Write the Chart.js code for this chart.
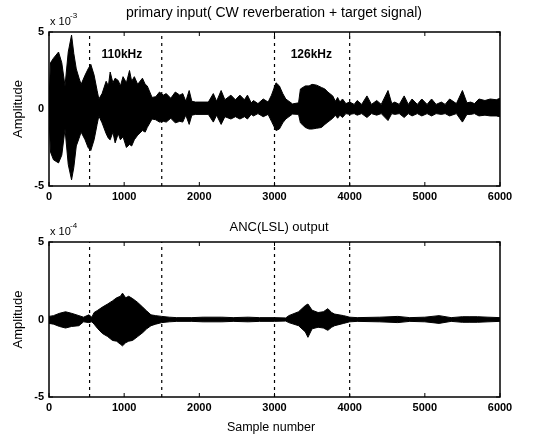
<!DOCTYPE html>
<html>
<head>
<meta charset="utf-8">
<script src="https://cdn.jsdelivr.net/npm/chart.js@4"></script>
<style>
  body { margin: 0; background: #fff; }
  #wrap { position: relative; width: 534px; height: 439px; }
  canvas { position: absolute; left: 0; }
</style>
</head>
<body>
<div id="wrap">
  <canvas id="topChart" width="534" height="215" style="top:0"></canvas>
  <canvas id="bottomChart" width="534" height="224" style="top:215px"></canvas>
</div>
<script>
// envelope of the primary input (x 10^-3)
const topX = [0, 20, 60, 127, 170, 213, 256, 300, 330, 363, 400, 427, 480, 520, 556, 600, 640, 663,
  706, 760, 790, 814, 850, 880, 921, 950, 985, 1030, 1071, 1100, 1135, 1180, 1243, 1280, 1307, 1371,
  1420, 1470, 1520, 1560, 1620, 1680, 1740, 1779, 1820, 1865, 1900, 1950, 2120, 2186, 2230, 2290,
  2340, 2420, 2480, 2540, 2600, 2640, 2690, 2720, 2780, 2850, 2915, 2960, 3020, 3065, 3110, 3150,
  3240, 3320, 3345, 3410, 3460, 3500, 3560, 3625, 3670, 3710, 3775, 3810, 3840, 3870, 3905, 3950,
  4000, 4060, 4100, 4160, 4230, 4290, 4360, 4420, 4510, 4560, 4600, 4660, 4725, 4780, 4830, 4900,
  4960, 5030, 5090, 5150, 5220, 5270, 5330, 5420, 5500, 5560, 5610, 5660, 5720, 5800, 5870, 5950, 6000];
const topUpper = [0.5, 3.0, 3.3, 3.7, 3.0, 1.5, 3.7, 4.8, 3.6, 2.6, 2.0, 1.6, 2.2, 2.6, 2.9, 2.2, 1.2, 0.65,
  1.0, 1.8, 1.5, 2.4, 1.7, 2.0, 1.85, 1.5, 2.1, 1.7, 2.5, 1.8, 2.1, 1.6, 2.0, 1.6, 1.5, 0.75,
  0.8, 1.1, 0.9, 1.0, 0.7, 1.1, 0.9, 1.0, 0.5, 1.2, 0.5, 0.45, 0.45, 1.0, 0.5, 1.2,
  0.6, 0.9, 0.6, 0.9, 0.6, 0.9, 0.4, 0.55, 0.35, 0.65, 0.45, 0.9, 1.7, 1.5, 1.0, 0.65,
  0.33, 0.4, 1.3, 1.5, 1.5, 1.6, 1.55, 1.4, 1.3, 1.1, 0.85, 0.5, 0.75, 0.45, 0.65, 0.35,
  0.45, 0.3, 0.55, 0.3, 0.85, 0.3, 0.55, 0.3, 1.2, 0.35, 0.45, 0.3, 0.85, 0.3, 0.65, 0.3,
  0.65, 0.3, 0.65, 0.3, 0.45, 0.3, 0.65, 0.35, 1.2, 0.4, 0.45, 0.35, 0.65, 0.55, 0.65, 0.6, 0.7];
const topLower = [-0.5, -2.8, -3.3, -3.5, -3.0, -1.3, -3.6, -4.6, -3.8, -2.4, -1.9, -1.5, -2.0, -2.5, -2.7, -2.0, -1.0, -0.45,
  -0.9, -1.6, -1.9, -2.0, -1.5, -2.2, -1.6, -2.0, -1.8, -2.5, -2.3, -2.4, -2.0, -1.7, -1.4, -1.5, -1.2, -0.65,
  -0.7, -0.85, -0.8, -0.85, -0.6, -0.9, -0.8, -0.85, -0.4, -1.0, -0.4, -0.35, -0.35, -0.85, -0.4, -1.0,
  -0.5, -0.65, -0.5, -0.65, -0.5, -0.65, -0.35, -0.45, -0.3, -0.5, -0.35, -0.8, -1.4, -1.3, -0.9, -0.65,
  -0.33, -0.35, -0.9, -1.2, -1.3, -1.3, -1.25, -1.2, -1.0, -0.85, -0.6, -0.4, -0.6, -0.4, -0.55, -0.3,
  -0.35, -0.3, -0.4, -0.3, -0.55, -0.3, -0.4, -0.3, -0.75, -0.3, -0.35, -0.3, -0.55, -0.3, -0.45, -0.3,
  -0.45, -0.3, -0.45, -0.3, -0.35, -0.3, -0.45, -0.3, -0.85, -0.35, -0.35, -0.3, -0.45, -0.4, -0.45, -0.45, -0.5];

// envelope of the ANC(LSL) output
const botX = [0, 60, 140, 220, 300, 398, 460, 530, 570, 600, 650, 710, 780, 844, 900, 950, 978, 1020,
  1060, 1112, 1180, 1246, 1300, 1357, 1420, 1500, 1600, 1700, 1900, 2050, 2300, 2450, 2650, 2800,
  3000, 3150, 3190, 3320, 3410, 3445, 3500, 3580, 3650, 3710, 3760, 3800, 3920, 4000, 4100, 4400,
  4640, 4800, 5000, 5190, 5350, 5500, 5600, 5700, 5840, 6000];
const botUpper = [0.2, 0.25, 0.4, 0.5, 0.4, 0.25, 0.15, 0.3, 0.15, 0.45, 0.6, 0.8, 1.0, 1.2, 1.4, 1.5, 1.7, 1.4,
  1.5, 1.35, 1.1, 0.8, 0.55, 0.3, 0.25, 0.2, 0.15, 0.12, 0.12, 0.15, 0.15, 0.12, 0.15, 0.12,
  0.12, 0.1, 0.25, 0.5, 0.9, 1.0, 0.6, 0.45, 0.5, 0.7, 0.45, 0.35, 0.25, 0.15, 0.12, 0.15,
  0.2, 0.12, 0.15, 0.25, 0.12, 0.18, 0.18, 0.18, 0.15, 0.12];
const botLower = [-0.25, -0.3, -0.45, -0.55, -0.45, -0.4, -0.15, -0.2, -0.15, -0.3, -0.6, -0.9, -1.1, -1.35, -1.4, -1.6, -1.7, -1.5,
  -1.4, -1.35, -1.1, -0.85, -0.6, -0.4, -0.3, -0.2, -0.15, -0.12, -0.12, -0.15, -0.15, -0.12, -0.15, -0.12,
  -0.12, -0.1, -0.2, -0.4, -0.8, -1.15, -0.6, -0.5, -0.55, -0.7, -0.5, -0.4, -0.25, -0.15, -0.12, -0.15,
  -0.2, -0.12, -0.15, -0.25, -0.12, -0.18, -0.18, -0.18, -0.15, -0.12];

const dashX = [540, 1500, 3000, 4000];
const xTicks = [0, 1000, 2000, 3000, 4000, 5000, 6000];
const yTicks = [-5, 0, 5];
const freqLabels = ['110kHz', '126kHz'];
const freqX = [970, 3490];
const freqY = 3.55;

const FONT = '"Liberation Sans", Arial, sans-serif';

function toPoints(xs, ys) {
    return xs.map((x, i) => ({ x: x, y: ys[i] }));
}

// MATLAB style box, inward ticks and the free texts
function axesPlugin(cfg) {
    return {
        id: 'matlabAxes',
        afterDraw(chart) {
            const ctx = chart.ctx;
            const a = chart.chartArea;
            const xs = chart.scales.x, ys = chart.scales.y;
            ctx.save();
            ctx.strokeStyle = '#000';
            ctx.lineWidth = 1.5;
            ctx.strokeRect(a.left, a.top, a.right - a.left, a.bottom - a.top);
            ctx.lineWidth = 1;
            ctx.beginPath();
            xTicks.forEach(v => {
                const px = xs.getPixelForValue(v);
                ctx.moveTo(px, a.bottom); ctx.lineTo(px, a.bottom - 4);
                ctx.moveTo(px, a.top); ctx.lineTo(px, a.top + 4);
            });
            yTicks.forEach(v => {
                const py = ys.getPixelForValue(v);
                ctx.moveTo(a.left, py); ctx.lineTo(a.left + 4, py);
                ctx.moveTo(a.right, py); ctx.lineTo(a.right - 4, py);
            });
            ctx.stroke();

            ctx.fillStyle = '#000';
            ctx.textAlign = 'center';
            ctx.textBaseline = 'middle';
            ctx.font = cfg.titleSize + 'px ' + FONT;
            ctx.fillText(cfg.title, cfg.titleX, cfg.titleY);

            // exponent label
            ctx.textAlign = 'left';
            ctx.font = '11px ' + FONT;
            ctx.fillText('x 10', a.left + 1, a.top - 10);
            ctx.font = '8px ' + FONT;
            ctx.fillText(cfg.expo, a.left + 21, a.top - 16);

            // y label
            ctx.save();
            ctx.translate(18, (a.top + a.bottom) / 2);
            ctx.rotate(-Math.PI / 2);
            ctx.textAlign = 'center';
            ctx.font = '13px ' + FONT;
            ctx.fillText('Amplitude', 0, 0);
            ctx.restore();

            if (cfg.xlabel) {
                ctx.textAlign = 'center';
                ctx.font = '12.5px ' + FONT;
                ctx.fillText(cfg.xlabel, cfg.xlabelX, cfg.xlabelY);
            }
            if (cfg.freq) {
                ctx.textAlign = 'center';
                ctx.font = 'bold 12px ' + FONT;
                freqLabels.forEach((t, i) => {
                    ctx.fillText(t, xs.getPixelForValue(freqX[i]), ys.getPixelForValue(freqY));
                });
            }
            ctx.restore();
        }
    };
}

function makeChart(id, xs, upper, lower, cfg) {
    const datasets = [
        {
            data: toPoints(xs, upper),
            borderColor: '#000',
            backgroundColor: '#000',
            borderWidth: 1,
            pointRadius: 0,
            fill: '+1'
        },
        {
            data: toPoints(xs, lower),
            borderColor: '#000',
            borderWidth: 1,
            pointRadius: 0,
            fill: false
        }
    ];
    dashX.forEach(x => {
        datasets.push({
            data: [{ x: x, y: -5 }, { x: x, y: 5 }],
            borderColor: '#000',
            borderWidth: 1.2,
            borderDash: [3, 4],
            pointRadius: 0,
            fill: false
        });
    });

    return new Chart(document.getElementById(id).getContext('2d'), {
        type: 'line',
        data: { datasets: datasets },
        options: {
            responsive: false,
            animation: false,
            events: [],
            layout: { padding: { top: cfg.padTop, right: 34, left: 0, bottom: 0 } },
            plugins: { legend: { display: false }, tooltip: { enabled: false } },
            scales: {
                x: {
                    type: 'linear',
                    min: 0,
                    max: 6000,
                    afterFit: s => { s.height = cfg.xHeight; },
                    afterBuildTicks: s => { s.ticks = xTicks.map(v => ({ value: v })); },
                    grid: { display: false, drawTicks: false },
                    border: { display: false },
                    ticks: {
                        color: '#000',
                        padding: 4,
                        maxRotation: 0,
                        font: { family: FONT, size: 11, weight: 'bold' },
                        callback: v => String(v)
                    }
                },
                y: {
                    min: -5,
                    max: 5,
                    afterFit: s => { s.width = 49; },
                    afterBuildTicks: s => { s.ticks = yTicks.map(v => ({ value: v })); },
                    grid: { display: false, drawTicks: false },
                    border: { display: false },
                    ticks: {
                        color: '#000',
                        padding: 5,
                        font: { family: FONT, size: 11, weight: 'bold' },
                        callback: v => String(v)
                    }
                }
            }
        },
        plugins: [axesPlugin(cfg)]
    });
}

makeChart('topChart', topX, topUpper, topLower, {
    padTop: 32, xHeight: 29,
    title: 'primary input( CW reverberation + target signal)', titleSize: 14, titleX: 274, titleY: 13,
    expo: '-3', freq: true
});

makeChart('bottomChart', botX, botUpper, botLower, {
    padTop: 27, xHeight: 42,
    title: 'ANC(LSL) output', titleSize: 13, titleX: 279, titleY: 12,
    expo: '-4', freq: false,
    xlabel: 'Sample number', xlabelX: 271, xlabelY: 213
});
</script>
</body>
</html>
